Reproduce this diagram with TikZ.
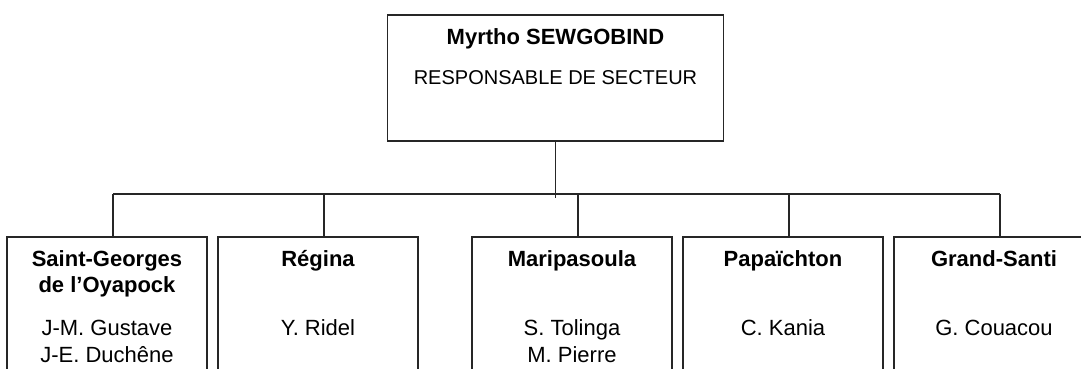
\documentclass[tikz,border=0pt]{standalone}
\usepackage{fontspec}
\setmainfont{Liberation Sans}
\usetikzlibrary{positioning,calc}
\tikzset{%
  every unit/.style={
    draw=black!85,
    line width=1.6pt,
    rectangle,
    minimum width=200pt,
    minimum height=160pt,
    anchor=north,
    inner sep=0pt
  },
  unit head/.style={
    minimum width=336pt,
    minimum height=126pt
  },
  unit title/.style={font=\bfseries\fontsize{22}{26}\selectfont, align=center, anchor=north, inner sep=0pt},
  unit names/.style={font=\fontsize{22}{27}\selectfont, align=center, anchor=north, inner sep=0pt},
  link/.style={draw=black!85, line width=1.6pt},
}

\begin{document}
\begin{tikzpicture}[x=1pt, y=-1pt]
        \useasboundingbox (0,0) rectangle (1081,369);
        \clip (0,0) rectangle (1081,369);

        % head of the sector
        \node [every unit/.try, unit head/.try] (head) at (555.5,14) {};
        \node [unit title] (head-name) at (555.5,25.8) {\strut Myrtho SEWGOBIND};
        \node [unit names, font=\fontsize{20}{24}\selectfont] (head-role) at (555.5,67.2) {\strut RESPONSABLE DE SECTEUR};

        % the five sites
        \foreach \x/\s/\p [count=\i] in {107/{Saint-Georges\\de l’Oyapock}/{J-M. Gustave\\J-E. Duchêne},
                                         318/{Régina}/{Y. Ridel},
                                         572/{Maripasoula}/{S. Tolinga\\M. Pierre},
                                         783/{Papaïchton}/{C. Kania},
                                         994/{Grand-Santi}/{G. Couacou}}
          {
            \node [every unit/.try] (unit-\i) at (\x,236) {};
            \node [unit title] (site-\i) at (\x,247.8) {\strut\s};
            \node [unit names] (people-\i) at (\x,316.1) {\strut\p};
          }

        \coordinate (bus) at (555.5,194);
        \draw [link] (head.south) -- ($(bus)+(0,4)$);
        \draw [link] ([xshift=6pt]unit-1.north |- bus) -- ([xshift=6pt]unit-5.north |- bus);
        \foreach \i in {1,...,5}
          \draw [link] ([xshift=6pt]unit-\i.north |- bus) -- ([xshift=6pt]unit-\i.north);
\end{tikzpicture}
\end{document}
